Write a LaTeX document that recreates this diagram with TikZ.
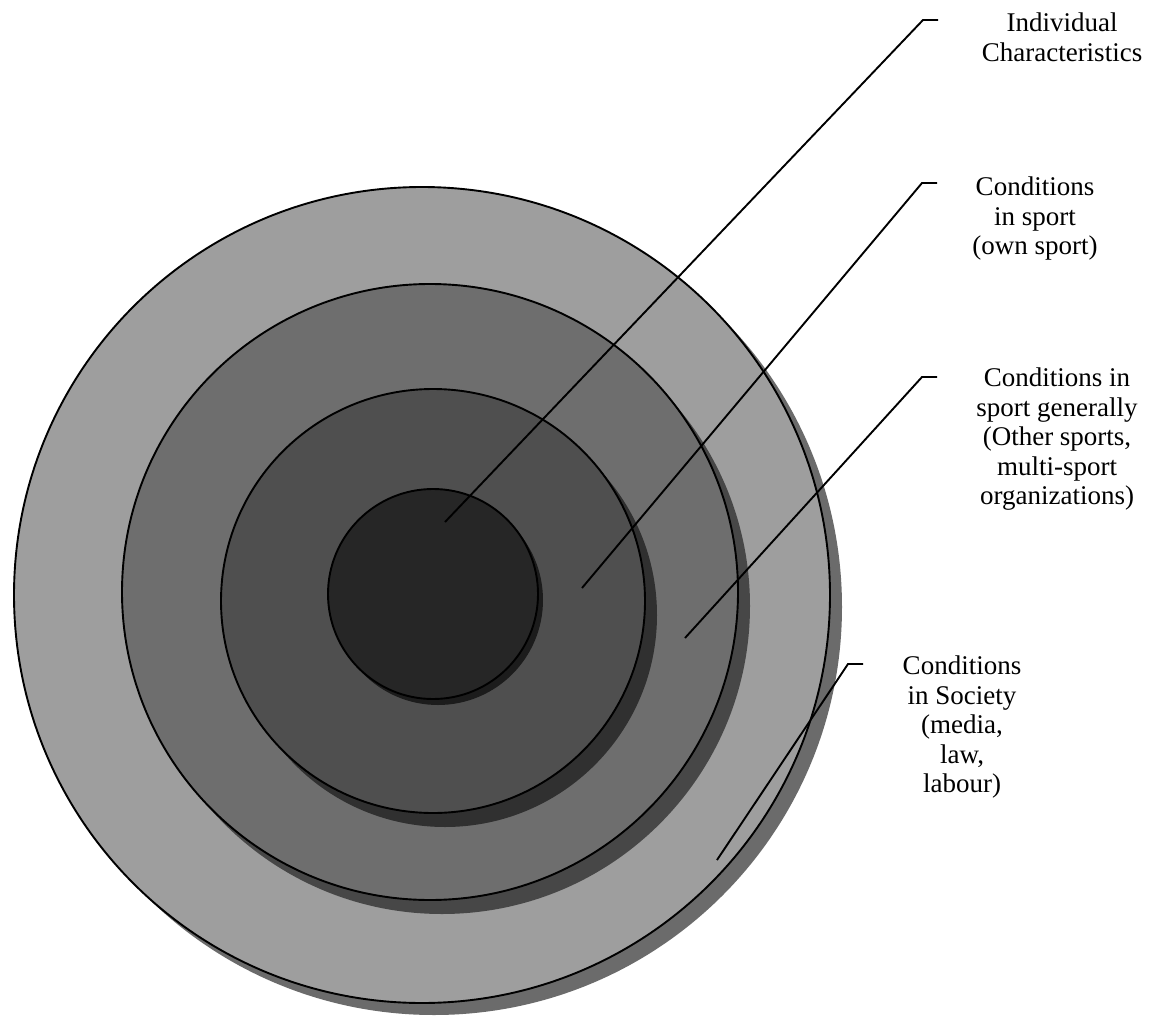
\documentclass[tikz,border=0pt]{standalone}
\usepackage{fontspec}
\setmainfont{Liberation Serif}
\definecolor{ringA}{gray}{0.62}
\definecolor{ringAs}{gray}{0.42}
\definecolor{ringB}{gray}{0.43}
\definecolor{ringBs}{gray}{0.28}
\definecolor{ringC}{gray}{0.31}
\definecolor{ringCs}{gray}{0.19}
\definecolor{ringD}{gray}{0.15}
\definecolor{ringDs}{gray}{0.11}
\begin{document}
\begin{tikzpicture}[x=1pt,y=-1pt,
  disk/.style={draw=black,line width=1.9pt},
  lbl/.style={align=center,inner sep=0pt,anchor=north,font=\fontsize{27}{29.5}\selectfont},
  leader/.style={draw=black,line width=1.9pt}]
\useasboundingbox (0,0) rectangle (1152,1017);
\fill[white] (0,0) rectangle (1152,1017);
% outer ring: Conditions in Society
\fill[ringAs] (434,607) circle[radius=408];
\filldraw[disk,fill=ringA] (422,595) circle[radius=408];
% ring 2: Conditions in sport generally
\fill[ringBs] (442,606) circle[radius=308];
\filldraw[disk,fill=ringB] (430,592) circle[radius=308];
% ring 3: Conditions in sport (own sport)
\fill[ringCs] (445,615) circle[radius=212];
\filldraw[disk,fill=ringC] (433,601) circle[radius=212];
% inner: Individual Characteristics
\fill[ringDs] (438,600) circle[radius=105];
\filldraw[disk,fill=ringD,draw=black] (433,594) circle[radius=105];
% labels
\node[lbl] (l1) at (1062,13) {Individual\\Characteristics};
\node[lbl] (l2) at (1035,177) {Conditions\\in sport\\(own sport)};
\node[lbl] (l3) at (1057,368) {Conditions in\\sport generally\\(Other sports,\\multi-sport\\organizations)};
\node[lbl] (l4) at (962,656) {Conditions\\in Society\\(media,\\law,\\labour)};
% leader coordinates
\coordinate (a1) at (445,522);
\coordinate (k1) at (923,20);
\coordinate (t1) at (938,20);
\coordinate (a2) at (582,588);
\coordinate (k2) at (922,183);
\coordinate (t2) at (937,183);
\coordinate (a3) at (685,638);
\coordinate (k3) at (922,377);
\coordinate (t3) at (937,377);
\coordinate (a4) at (717,860);
\coordinate (k4) at (848,664);
\coordinate (t4) at (863,664);
\draw[leader] (a1) -- (k1) -- (t1);
\draw[leader] (a2) -- (k2) -- (t2);
\draw[leader] (a3) -- (k3) -- (t3);
\draw[leader] (a4) -- (k4) -- (t4);
\end{tikzpicture}
\end{document}
